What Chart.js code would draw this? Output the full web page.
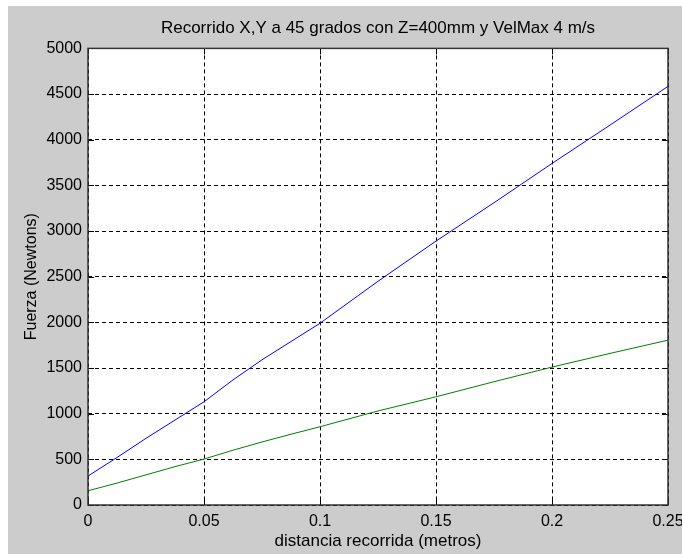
<!DOCTYPE html>
<html>
<head>
<meta charset="utf-8">
<script src="https://cdn.jsdelivr.net/npm/chart.js@4.4.1/dist/chart.umd.min.js"></script>
<style>
  body { margin: 0; background: #ffffff; }
  #wrap { position: absolute; left: 8px; top: 6px; width: 674px; height: 548px; background: #cccccc; }
</style>
</head>
<body>
<div id="wrap"><canvas id="grafico" width="674" height="548"></canvas></div>
<script>
// distancia recorrida (metros)
const distancia = [0, 0.0125, 0.025, 0.0375, 0.05, 0.0625, 0.075, 0.0875, 0.1, 0.125, 0.15, 0.175, 0.2, 0.225, 0.25];
// fuerza (Newtons)
const fuerzaAzul = [317, 520, 730, 930, 1130, 1370, 1590, 1790, 1990, 2450, 2890, 3310, 3740, 4160, 4584];
const fuerzaVerde = [156, 240, 330, 420, 503, 600, 690, 775, 857, 1030, 1185, 1350, 1510, 1660, 1805];

const titulo = "Recorrido X,Y a 45 grados con Z=400mm y VelMax 4 m/s";
const tituloX = "distancia recorrida (metros)";
const tituloY = "Fuerza (Newtons)";

const fuente = "'Liberation Sans', Arial, sans-serif";

function puntos(xs, ys) {
  return xs.map((x, i) => ({ x: x, y: ys[i] }));
}

// fondo blanco del area, marco y marcas hacia dentro (estilo MATLAB)
const marco = {
  id: "marco",
  beforeDraw(chart) {
    const a = chart.chartArea, c = chart.ctx;
    c.save();
    c.fillStyle = "#ffffff";
    c.fillRect(a.left, a.top, a.right - a.left, a.bottom - a.top);
    c.restore();
  },
  afterDatasetsDraw(chart) {
    const a = chart.chartArea, c = chart.ctx;
    const sx = chart.scales.x, sy = chart.scales.y;
    c.save();
    c.strokeStyle = "#000000";
    c.lineWidth = 1;
    c.beginPath();
    sx.ticks.forEach(t => {
      const px = Math.round(sx.getPixelForValue(t.value)) + 0.5;
      c.moveTo(px, a.bottom); c.lineTo(px, a.bottom - 6);
      c.moveTo(px, a.top); c.lineTo(px, a.top + 6);
    });
    sy.ticks.forEach(t => {
      const py = Math.round(sy.getPixelForValue(t.value)) + 0.5;
      c.moveTo(a.left, py); c.lineTo(a.left + 6, py);
      c.moveTo(a.right, py); c.lineTo(a.right - 6, py);
    });
    c.stroke();
    c.lineWidth = 1.5;
    c.strokeStyle = "#333333";
    c.strokeRect(a.left, a.top, a.right - a.left, a.bottom - a.top);
    c.restore();
  }
};

new Chart(document.getElementById("grafico"), {
  type: "line",
  data: {
    datasets: [
      {
        data: puntos(distancia, fuerzaAzul),
        borderColor: "#0000ff",
        borderWidth: 1,
        pointRadius: 0,
        tension: 0,
        fill: false
      },
      {
        data: puntos(distancia, fuerzaVerde),
        borderColor: "#008000",
        borderWidth: 1,
        pointRadius: 0,
        tension: 0,
        fill: false
      }
    ]
  },
  options: {
    responsive: false,
    devicePixelRatio: 1,
    animation: false,
    layout: { padding: { left: 0, right: 14, top: 0, bottom: 0 } },
    plugins: {
      legend: { display: false },
      tooltip: { enabled: false },
      title: {
        display: true,
        fullSize: false,
        text: titulo,
        color: "#000000",
        font: { size: 17, family: fuente, weight: "normal" },
        padding: { top: 12, bottom: 10 }
      }
    },
    scales: {
      x: {
        type: "linear",
        min: 0,
        max: 0.25,
        afterFit(scale) {
          scale.height = 49;
          scale.paddingLeft = 0;
          scale.paddingRight = 0;
        },
        grid: {
          color: "#000000",
          lineWidth: 1,
          drawTicks: false
        },
        border: { display: false, dash: [4, 3] },
        ticks: {
          stepSize: 0.05,
          padding: 7,
          color: "#000000",
          maxRotation: 0,
          font: { size: 16, family: fuente },
          callback: v => String(+v.toFixed(2))
        },
        title: {
          display: true,
          text: tituloX,
          color: "#000000",
          font: { size: 17, family: fuente },
          padding: { top: 0, bottom: 2 }
        }
      },
      y: {
        min: 0,
        max: 5000,
        afterFit(scale) { scale.width = 80; },
        grid: {
          color: "#000000",
          lineWidth: 1,
          drawTicks: false
        },
        border: { display: false, dash: [4, 3] },
        ticks: {
          stepSize: 500,
          padding: 6,
          color: "#000000",
          font: { size: 16, family: fuente },
          callback: v => String(v)
        },
        title: {
          display: true,
          text: tituloY,
          color: "#000000",
          font: { size: 16, family: fuente },
          padding: { top: 14, bottom: 0 }
        }
      }
    }
  },
  plugins: [marco]
});
</script>
</body>
</html>
